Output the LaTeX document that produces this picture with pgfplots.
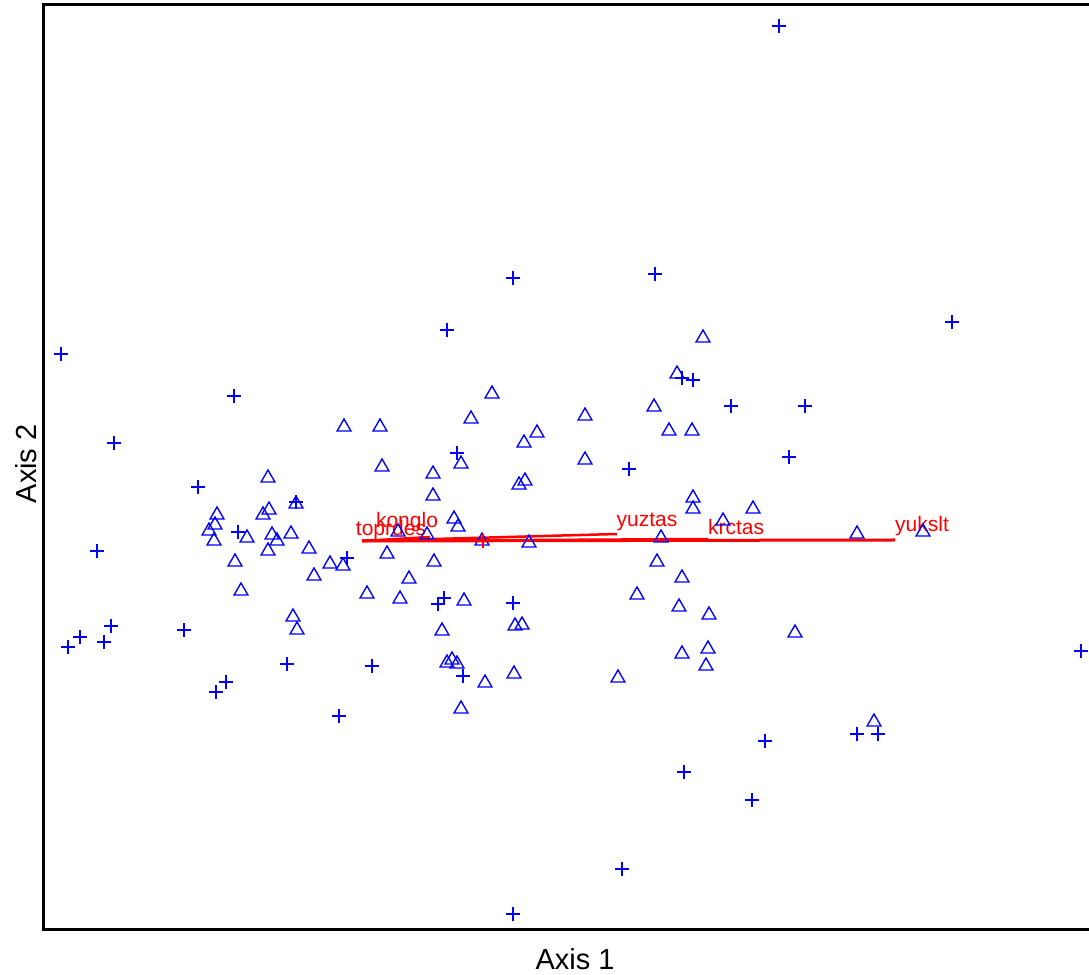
\documentclass[border=0pt]{standalone}
\usepackage{pgfplots}
\pgfplotsset{compat=1.18}
\usepackage{fontspec}
\setmainfont{Liberation Sans}
\begin{document}
\begin{tikzpicture}
\begin{axis}[
  scale only axis,
  width=418.4pt, height=370pt,
  xmin=43, xmax=1089, ymin=-930, ymax=-5,
  xtick=\empty, ytick=\empty,
  axis line style={draw=none},
  clip=false,
  xlabel={\fontsize{11.6}{13}\selectfont Axis 1},
  ylabel={\fontsize{11.6}{13}\selectfont Axis 2},
  xlabel style={at={(axis description cs:0.5086,-0.031)}, anchor=center},
  ylabel style={at={(axis description cs:-0.0163,0.504)}, anchor=center},
]
% frame (left, top, bottom; right edge lies beyond the picture)
\draw[line width=1.2pt, black] (axis cs:1095,-5) -- (axis cs:43,-5) -- (axis cs:43,-930) -- (axis cs:1095,-930);
% plus markers
\addplot[only marks, mark=+, mark size=2.8pt, blue, mark options={line width=0.6pt}] coordinates {
(779,-26) (513,-278) (655,-274) (447,-330) (952,-322) (61,-354) (234,-396) (114,-443)
(198,-487) (97,-551) (111,-626) (80,-637) (104,-642) (68,-647) (184,-630) (287,-664)
(372,-666) (226,-682) (216,-692) (339,-716) (296,-502) (238,-532) (347,-558) (457,-453)
(682,-378) (693,-380) (731,-406) (805,-406) (789,-457) (629,-469) (444,-598) (438,-604)
(513,-603) (463,-676) (513,-914) (622,-869) (684,-772) (752,-800) (765,-741) (857,-734)
(878,-734) (1081,-651)
};
% triangle markers
\addplot[only marks, mark=triangle, mark size=3.2pt, blue, mark options={line width=0.55pt}] coordinates {
(344,-427) (380,-427) (382,-467) (268,-478) (217,-515) (215,-525) (209,-531) (214,-541)
(263,-515) (269,-510) (296,-504) (247,-538) (272,-535) (277,-541) (291,-534) (268,-551)
(309,-549) (235,-562) (330,-564) (343,-566) (314,-576) (241,-591) (367,-594) (293,-617)
(297,-630)
(703,-338) (677,-374) (492,-394) (471,-419) (585,-416) (654,-407) (669,-431) (692,-431)
(524,-443) (537,-433) (461,-464) (433,-474) (585,-460) (519,-485) (525,-481) (433,-496)
(693,-498) (693,-509) (454,-519) (458,-527) (427,-535) (398,-532) (387,-554) (434,-562)
(409,-579) (400,-599) (464,-601) (442,-631) (515,-626) (522,-625) (447,-663) (452,-660)
(457,-664) (485,-683) (514,-674) (461,-709) (482,-541) (529,-543) (661,-538) (657,-562)
(682,-578) (637,-595) (679,-607) (709,-615) (708,-649) (706,-666) (682,-654) (618,-678)
(795,-633) (874,-722) (753,-509) (723,-521) (857,-534) (923,-532)
};
% red plus
\addplot[only marks, mark=+, mark size=2.8pt, red, mark options={line width=0.6pt}] coordinates {(483,-541)};
% biplot vectors
\addplot[red, line width=1.2pt] coordinates {(362,-541) (895,-540)};
\addplot[red, line width=1.0pt] coordinates {(362,-541) (617,-534)};
\addplot[red, line width=1.0pt] coordinates {(362,-541) (708,-539)};
\addplot[red, line width=1.0pt] coordinates {(362,-541) (430,-537)};
\addplot[red, line width=1.0pt] coordinates {(362,-541) (410,-539)};
% labels
\node[red, font=\fontsize{8.4}{10}\selectfont] at (axis cs:391,-530) {toprdes};
\node[red, font=\fontsize{8.4}{10}\selectfont] at (axis cs:407,-522) {konglo};
\node[red, font=\fontsize{8.4}{10}\selectfont] at (axis cs:647,-522) {yuztas};
\node[red, font=\fontsize{8.4}{10}\selectfont] at (axis cs:736,-527) {krctas};
\node[red, font=\fontsize{8.4}{10}\selectfont] at (axis cs:922,-526) {yukslt};
\coordinate (BBsw) at (axis cs:0,-975);
\coordinate (BBne) at (axis cs:1089,0);
\end{axis}
\pgfresetboundingbox
\path (BBsw) rectangle (BBne);
\end{tikzpicture}
\end{document}
